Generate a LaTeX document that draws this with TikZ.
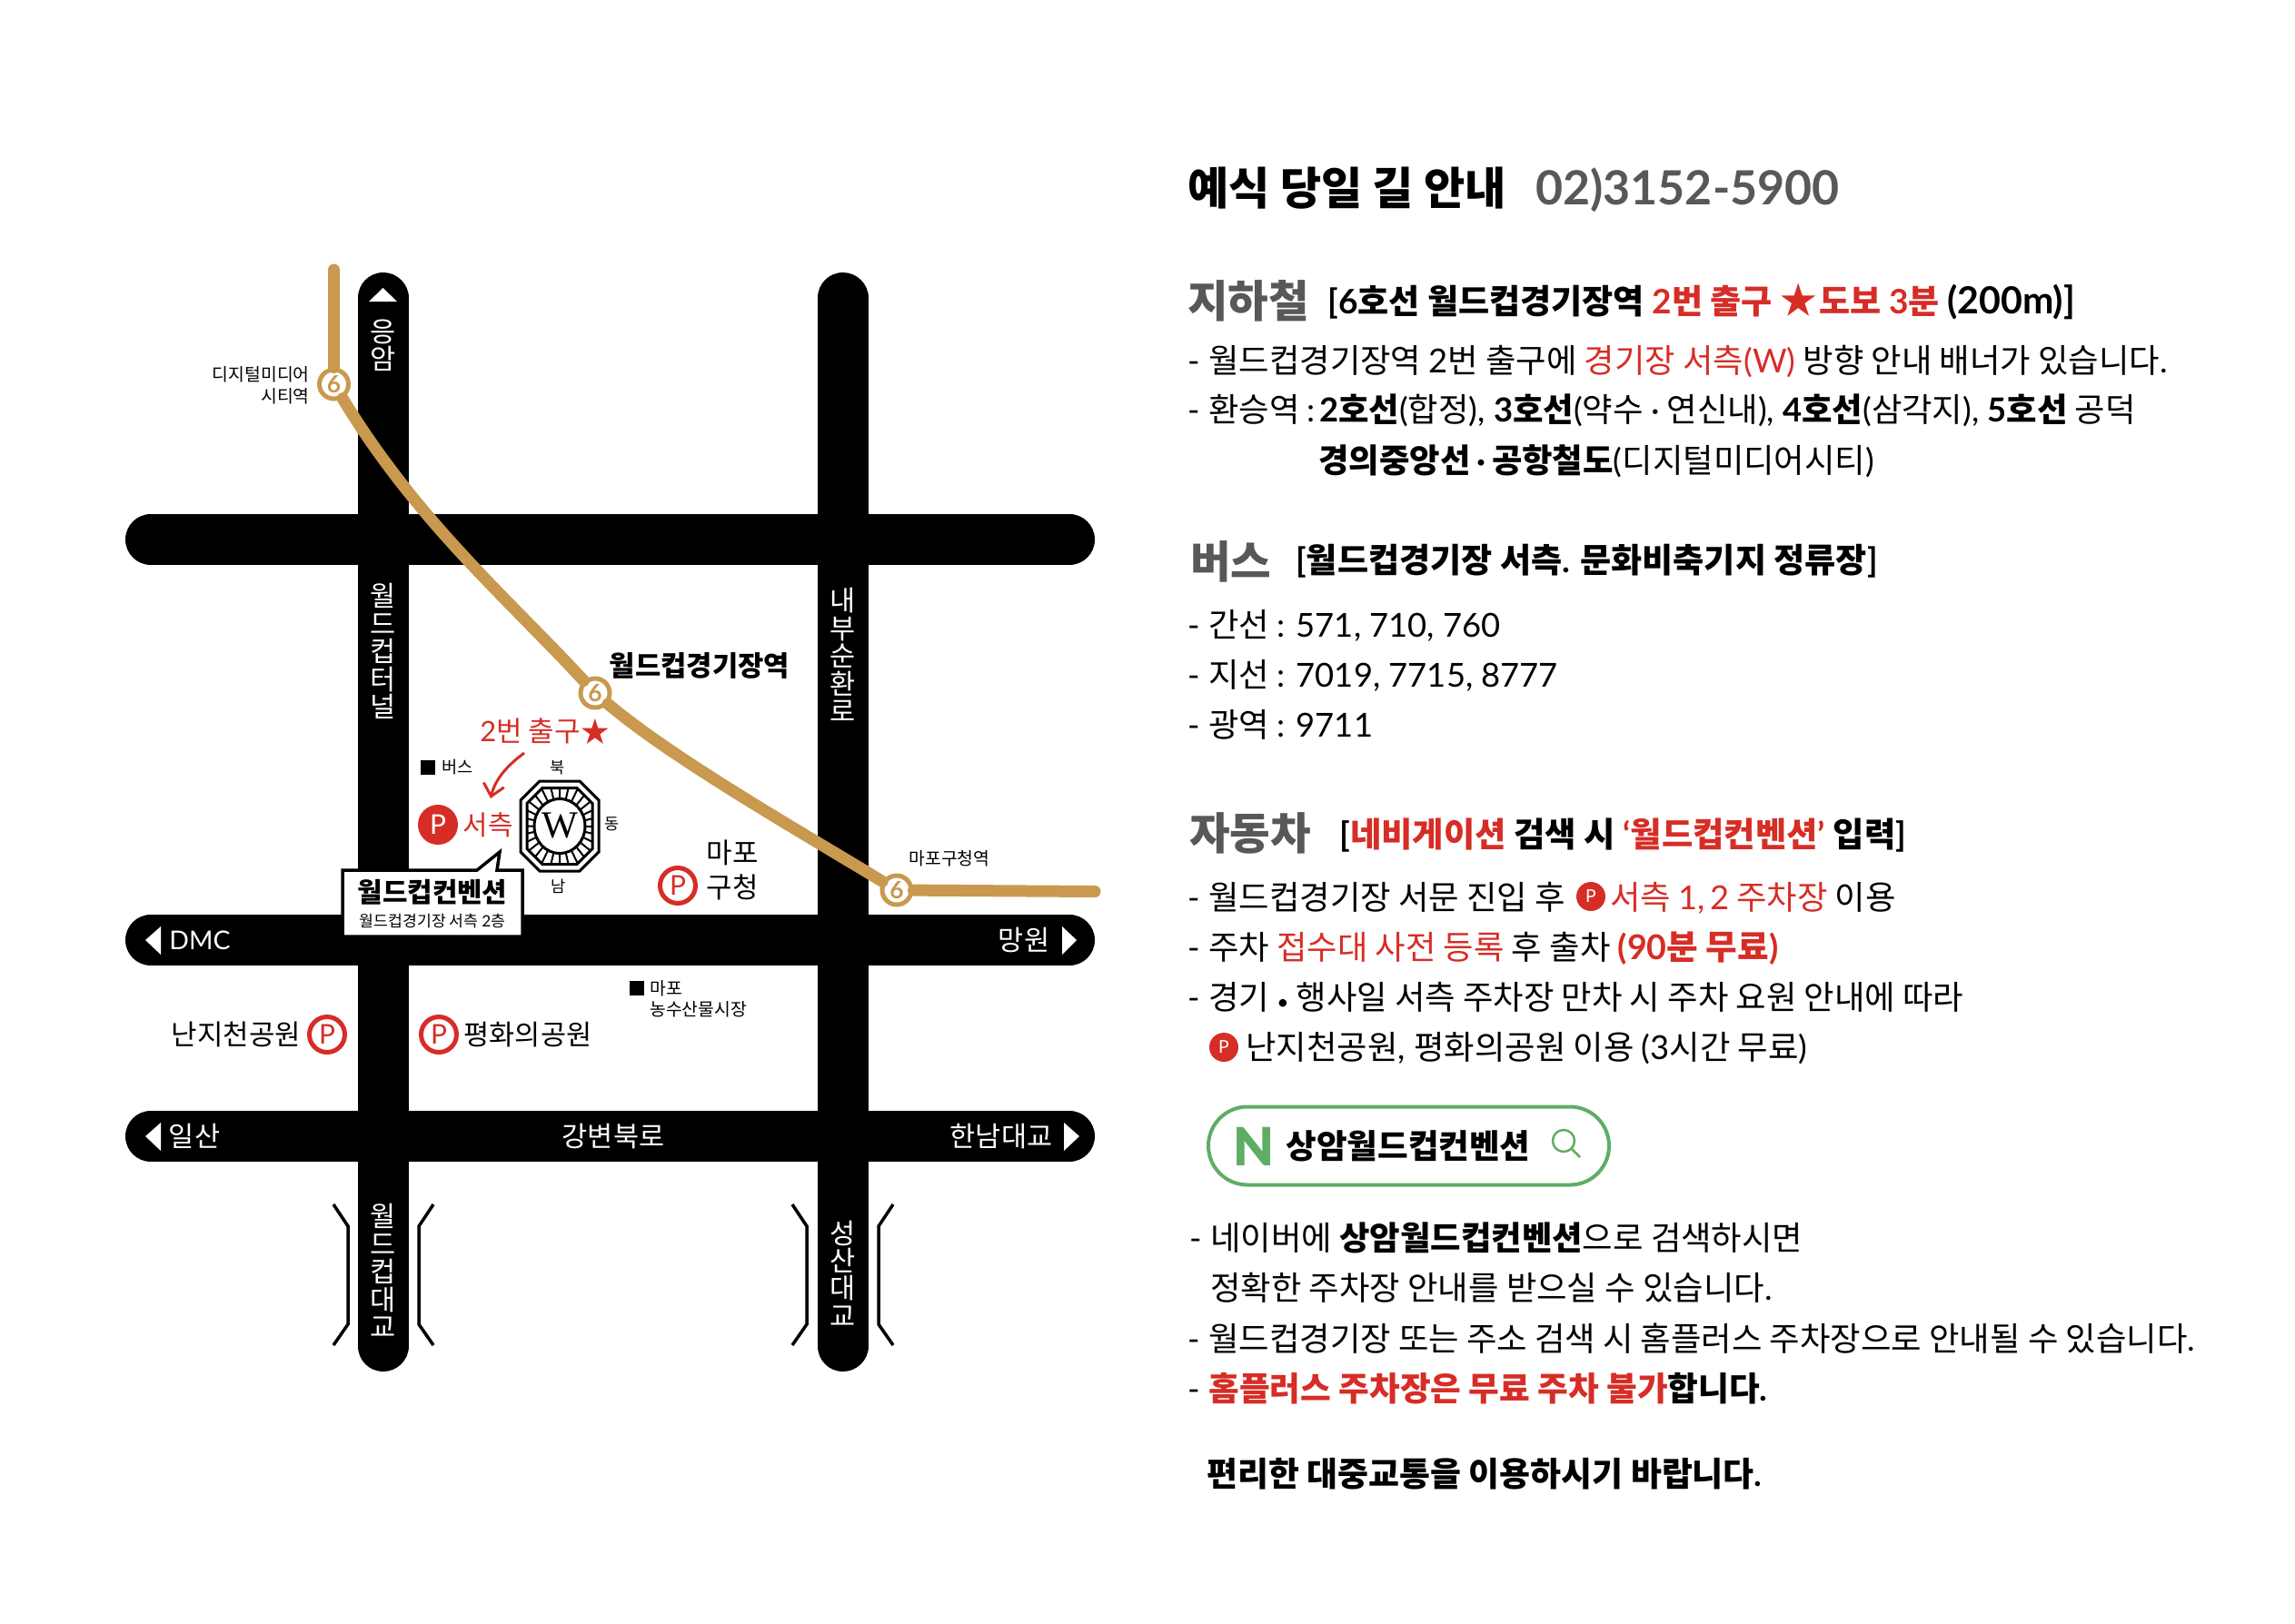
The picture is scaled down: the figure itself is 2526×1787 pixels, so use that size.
\documentclass[tikz,border=0pt]{standalone}
\usepackage{fontspec}
\usepackage{xcolor}
\usepackage{tikz}
\usetikzlibrary{arrows.meta}
\setmainfont{Noto Sans CJK KR}
\newfontfamily\latfont{Lato}
\newfontfamily\blackfont{Lato Black}
\newfontfamily\serfont{Liberation Serif}
\definecolor{mapred}{RGB}{214,45,38}
\definecolor{gold}{RGB}{200,153,78}
\definecolor{headgrey}{RGB}{88,88,88}
\definecolor{navergreen}{RGB}{95,173,100}
\newcommand{\lat}[1]{{\latfont #1}}
\newcommand{\rd}[1]{\textcolor{mapred}{#1}}
\tikzset{
  road/.style={line width=11.2mm,line cap=round},
  subway/.style={gold,line width=2.6mm,line cap=round},
  station/.style={circle,draw=gold,fill=white,line width=1mm,text=gold,inner sep=0,minimum size=6.4mm,font=\latfont\bfseries\fontsize{15}{15}\selectfont},
  maplab/.style={inner sep=0,font=\fontsize{17.6}{20}\selectfont},
  boldlab/.style={inner sep=0,font=\bfseries\fontsize{17.5}{20}\selectfont},
  smalllab/.style={inner sep=0,font=\fontsize{11}{13}\selectfont},
  roadlab/.style={inner sep=0,text=white,font=\fontsize{17.4}{20}\selectfont},
  sidelab/.style={roadlab,align=center,font=\fontsize{17.4}{17.3}\selectfont},
  pring/.style={circle,draw=mapred,line width=1mm,text=mapred,inner sep=0,minimum size=7.8mm,font=\latfont\fontsize{17}{17}\selectfont},
  pdot/.style={circle,fill=mapred,text=white,inner sep=0,minimum size=8.8mm,font=\latfont\fontsize{17}{17}\selectfont},
  pdotsmall/.style={circle,fill=mapred,text=white,inner sep=0,minimum size=6.4mm,font=\latfont\fontsize{11}{11}\selectfont},
  bracketline/.style={line width=.7mm},
  heading/.style={anchor=base west,inner sep=0,text=headgrey,font=\bfseries\fontsize{27.6}{32}\selectfont},
  subject/.style={anchor=base west,inner sep=0,font=\bfseries\fontsize{21.1}{26}\selectfont},
  line/.style={anchor=base west,inner sep=0,font=\fontsize{20.7}{25}\selectfont},
}

\begin{document}
\begin{tikzpicture}[x=0.2mm,y=-0.2mm]
        \useasboundingbox (0,0) rectangle (2526,1787);
        % roads
        \draw[road] (166,594) -- (1177,594);
        \draw[road] (166,1035) -- (1177,1035);
        \draw[road] (166,1251) -- (1177,1251);
        \draw[road] (421.5,328) -- (421.5,1482);
        \draw[road] (927.5,328) -- (927.5,1482);
        \fill[white] (421.5,317) -- (437,332) -- (406,332) -- cycle;
        \fill[white] (160,1035) -- (177,1020) -- (177,1051) -- cycle;
        \fill[white] (1185,1035) -- (1169,1020) -- (1169,1051) -- cycle;
        \fill[white] (160,1251) -- (177,1236) -- (177,1267) -- cycle;
        \fill[white] (1188,1251) -- (1171,1236) -- (1171,1267) -- cycle;
        \node[sidelab] (eungam) at (421.5,380) {응\\암};
        \node[sidelab] (tunnel) at (421.5,717) {월\\드\\컵\\터\\널};
        \node[sidelab] (naebu) at (927.5,721) {내\\부\\순\\환\\로};
        \node[sidelab] (wcbridge) at (421.5,1399) {월\\드\\컵\\대\\교};
        \node[sidelab] (sbridge) at (927.5,1402) {성\\산\\대\\교};
        \node[roadlab,font=\latfont\fontsize{16.2}{20}\selectfont] (dmc) at (220,1035) {DMC};
        \node[roadlab] (mangwon) at (1127,1035) {망원};
        \node[roadlab] (ilsan) at (214,1251) {일산};
        \node[roadlab] (gangbyeon) at (675,1251) {강변북로};
        \node[roadlab] (hannam) at (1102,1251) {한남대교};
        % bridges
        \draw[bracketline] (367,1326) -- (383,1350) -- (383,1458) -- (367,1481);
        \draw[bracketline] (477,1326) -- (461,1350) -- (461,1458) -- (477,1481);
        \draw[bracketline] (872,1326) -- (888,1350) -- (888,1458) -- (872,1481);
        \draw[bracketline] (983,1326) -- (967,1350) -- (967,1458) -- (983,1481);
        % line 6
        \node[station] (stnA) at (367.5,423) {6};
        \node[station] (stnB) at (655,763) {6};
        \node[station] (stnC) at (987,980) {6};
        \coordinate (lineN) at (367.5,297);
        \coordinate (lineE) at (1205,981.5);
        \draw[subway] (lineN) -- (stnA);
        \draw[subway] (stnA) .. controls (460,575) and (560,660) .. (stnB);
        \draw[subway] (stnB) .. controls (740,835) and (880,915) .. (stnC);
        \draw[subway] (stnC) -- (lineE);
        \node[smalllab,anchor=east] (dmcstn) at (341,412) {디지털미디어};
        \node[smalllab,anchor=east] (dmcstnb) at (341,436) {시티역};
        \node[boldlab] (wcstn) at (770,733) {월드컵경기장역};
        \node[smalllab] (mapostn) at (1045,945) {마포구청역};
        % stadium
        \begin{scope}[shift={(616,909.5)}]
          \begin{scope}
            \clip (-36,-25) -- (-19,-42) -- (19,-42) -- (36,-25) -- (36,25) -- (19,42) -- (-19,42) -- (-36,25) -- cycle;
            \foreach \a in {0,12.857,...,350}
              \draw[line width=.4mm] (0,0) -- (\a:60);
          \end{scope}
          \draw[line width=.6mm] (-43,-28.5) -- (-22,-49.5) -- (22,-49.5) -- (43,-28.5) -- (43,28.5) -- (22,49.5) -- (-22,49.5) -- (-43,28.5) -- cycle;
          \draw[line width=.6mm] (-36,-25) -- (-19,-42) -- (19,-42) -- (36,-25) -- (36,25) -- (19,42) -- (-19,42) -- (-36,25) -- cycle;
          \draw[line width=.6mm,fill=white] (0,0) ellipse [x radius=5.6mm,y radius=6mm];
        \end{scope}
        \node[inner sep=0,font=\serfont\fontsize{24}{24}\selectfont] (wmark) at (616,909) {W};
        \node[smalllab,font=\fontsize{10}{12}\selectfont] (north) at (614,845) {북};
        \node[smalllab,font=\fontsize{10}{12}\selectfont] (east) at (674,907) {동};
        \node[smalllab,font=\fontsize{10}{12}\selectfont] (south) at (615,976) {남};
        % exit and west side
        \node[maplab,text=mapred,anchor=east] (exitno) at (639,805) {\lat{2}번 출구};
        \node[inner sep=0,text=mapred,font=\fontsize{18}{20}\selectfont] (exitstar) at (655,805) {★};
        \fill (463,837) rectangle (479,853);
        \node[smalllab,font=\fontsize{10.6}{13}\selectfont,anchor=west] (bus) at (486,845) {버스};
        \coordinate (turnA) at (577,829);
        \coordinate (turnB) at (540,879);
        \draw[mapred,line width=.6mm,-{Straight Barb[length=2.6mm,width=4.6mm]}] (turnA) .. controls (558,843) and (545,858) .. (turnB);
        \node[pdot] (pwest) at (482,908) {P};
        \node[maplab,font=\fontsize{17}{20}\selectfont,text=mapred] (west) at (537,908) {서측};
        % callout
        \draw[fill=white,line width=.7mm] (377,958) -- (525,958) -- (550,938) -- (547,958) -- (575,958) -- (575,1031) -- (377,1031) -- cycle;
        \node[boldlab,font=\bfseries\fontsize{17}{20}\selectfont] (conv) at (476,982) {월드컵컨벤션};
        \node[smalllab,font=\fontsize{9.8}{12}\selectfont] (convsub) at (476,1014) {월드컵경기장 서측 \lat{2}층};
        % parking
        \node[maplab] (mapoa) at (806,939) {마포};
        \node[maplab] (mapob) at (806,977) {구청};
        \node[pring] (pmapo) at (746,975) {P};
        \node[maplab] (nanji) at (260,1139) {난지천공원};
        \node[pring] (pnanji) at (360,1139) {P};
        \node[pring] (ppeace) at (483,1139) {P};
        \node[maplab,font=\fontsize{17.4}{20}\selectfont] (peace) at (581,1139) {평화의공원};
        \fill (693,1080) rectangle (709,1096);
        \node[smalllab,anchor=west] (market) at (715,1088) {마포};
        \node[smalllab,anchor=west] (marketb) at (715,1111) {농수산물시장};
        % title
        \node[anchor=base west,inner sep=0,font=\bfseries\fontsize{28}{32}\selectfont] (title) at (1307,225) {예식 당일 길 안내};
        \node[anchor=base west,inner sep=0,text=headgrey,font=\latfont\bfseries\fontsize{29.5}{32}\selectfont] (phone) at (1690,225) {02)3152-5900};
        % subway
        \node[heading] (hsubway) at (1307,349) {지하철};
        \node[subject] (ssubway) at (1461,345) {\lat{[6}호선 월드컵경기장역 \rd{\lat{2}번 출구 {\fontsize{23}{23}\selectfont★}\hspace{1.5pt}도보 \lat{3}분} {\latfont\fontsize{23.4}{26}\selectfont(200m)]}};
        \node[line] (subwaya) at (1307,410) {\lat{- }월드컵경기장역 \lat{2}번 출구에 \rd{경기장 서측\lat{(W)}} 방향 안내 배너가 있습니다\lat{.}};
        \node[line] (subwayb) at (1307,464) {\lat{- }환승역 \lat{:}\hspace{2.5pt}\textbf{\lat{2}호선}\lat{(}합정\lat{), }\textbf{\lat{3}호선}\lat{(}약수 \lat{·} 연신내\lat{), }\textbf{\lat{4}호선}\lat{(}삼각지\lat{), }\textbf{\lat{5}호선} 공덕};
        \node[line] (subwayc) at (1451,520) {\textbf{경의중앙선\hspace{3.8pt}\lat{·}\hspace{3.8pt}공항철도}\lat{(}디지털미디어시티\lat{)}};
        % bus
        \node[heading] (hbus) at (1310,636) {버스};
        \node[subject] (sbus) at (1426,630) {\lat{[}월드컵경기장 서측\lat{.} 문화비축기지 정류장\lat{]}};
        \node[line] (busa) at (1307,701) {\lat{- }간선 \lat{: 571, 710, 760}};
        \node[line] (busb) at (1307,756) {\lat{- }지선 \lat{: 7019, 7715, 8777}};
        \node[line] (busc) at (1307,811) {\lat{- }광역 \lat{: 9711}};
        % car
        \node[heading] (hcar) at (1309,935) {자동차};
        \node[subject,font=\bfseries\fontsize{21.25}{26}\selectfont] (scar) at (1474,932) {\lat{[}\rd{네비게이션} 검색 시 \rd{\lat{‘}월드컵컨벤션\lat{’}} 입력\lat{]}};
        \node[line] (cara) at (1307,1001) {\lat{- }월드컵경기장 서문 진입 후};
        \node[pdotsmall] (pcara) at (1751,987) {P};
        \node[line] (carb) at (1772,1001) {\rd{서측 \lat{1,}\hspace{3pt}\lat{2} 주차장} 이용};
        \node[line] (carc) at (1307,1056) {\lat{- }주차 \rd{접수대 사전 등록} 후 출차 \rd{\bfseries\fontsize{21.4}{25}\selectfont\lat{(90}분 무료\lat{)}}};
        \node[line] (card) at (1307,1111) {\lat{- }경기 {\fontsize{13}{13}\selectfont\lat{•}} 행사일 서측 주차장 만차 시 주차 요원 안내에 따라};
        \node[pdotsmall] (pcarb) at (1347,1153) {P};
        \node[line] (care) at (1371,1166) {난지천공원\lat{, }평화의공원 이용 \lat{(3}시간 무료\lat{)}};
        % search box
        \node[draw=navergreen,line width=.8mm,rounded corners=8.6mm,minimum width=88.2mm,minimum height=17.2mm] (pill) at (1550.5,1261.5) {};
        \node[inner sep=0,text=navergreen,font=\blackfont\fontsize{33}{33}\selectfont] (nlogo) at (1380.5,1262) {N};
        \node[boldlab,font=\bfseries\fontsize{20.8}{24}\selectfont] (pillname) at (1550,1262) {상암월드컵컨벤션};
        \draw[navergreen,line width=.5mm] (1721,1256) circle (2.4mm);
        \draw[navergreen,line width=.5mm] (1730,1265) -- (1739,1274);
        % naver
        \node[line] (navera) at (1309,1376) {\lat{- }네이버에 \textbf{상암월드컵컨벤션}으로 검색하시면};
        \node[line] (naverb) at (1332,1431) {정확한 주차장 안내를 받으실 수 있습니다\lat{.}};
        \node[line] (naverc) at (1307,1487) {\lat{- }월드컵경기장 또는 주소 검색 시 홈플러스 주차장으로 안내될 수 있습니다\lat{.}};
        \node[line,font=\fontsize{20.85}{25}\selectfont] (naverd) at (1307,1542) {\lat{- }\textbf{\rd{홈플러스 주차장은 무료 주차 불가}합니다\lat{.}}};
        \node[line,font=\bfseries\fontsize{21}{25}\selectfont] (closing) at (1328,1636) {편리한 대중교통을 이용하시기 바랍니다\lat{.}};
    \end{tikzpicture}
\end{document}
